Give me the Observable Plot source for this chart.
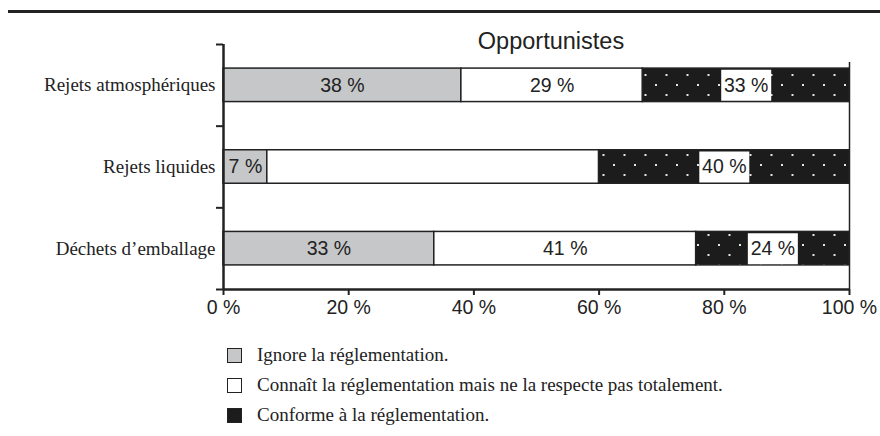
<!DOCTYPE html>
<html><head><meta charset="utf-8">
<script src="https://cdn.jsdelivr.net/npm/d3@7"></script>
<script src="https://cdn.jsdelivr.net/npm/@observablehq/plot@0.6"></script>
<style>
body{margin:0;background:#fff;}
#wrap{position:relative;width:880px;height:436px;overflow:hidden;background:#fff;}
#topline{position:absolute;left:8px;right:0;top:10px;height:3px;background:#222;}
#title{position:absolute;left:551px;top:29.5px;transform:translateX(-50%);font:23.5px/1 "Liberation Sans",Arial,sans-serif;color:#222;white-space:nowrap;}
#chart{position:absolute;left:0;top:0;}
#legend{position:absolute;left:227px;top:340px;font:19px "Liberation Serif","Times New Roman",serif;color:#222;}
.row{display:flex;align-items:center;height:30px;}
.sw{width:15px;height:15px;border:1.5px solid #222;margin-right:15px;box-sizing:border-box;}
</style></head>
<body><div id="wrap"><div id="topline"></div><div id="chart"></div><div id="title">Opportunistes</div><div id="legend"></div></div>
<script>
// ---- data ----
const categories = ["Rejets atmosphériques", "Rejets liquides", "Déchets d’emballage"];
const seriesNames = ["Ignore la réglementation.", "Connaît la réglementation mais ne la respecte pas totalement.", "Conforme à la réglementation."];
const ignoreValues = [38, 7, 33];
const connaitValues = [29, 53, 41];
const conformeValues = [33, 40, 24];
const labelShown = [[true, true, true], [true, false, true], [true, true, true]];
const xTickValues = [0, 20, 40, 60, 80, 100];
const seriesFills = ["#c6c7c9", "#ffffff", "url(#dots)"];
const legendFills = ["#c6c7c9", "#ffffff", "#1c1c1c"];

// ---- build table ----
const seriesValues = [ignoreValues, connaitValues, conformeValues];
const data = [];
categories.forEach((cat, i) => {
  seriesValues.forEach((vals, s) => {
    data.push({row: i, cat, series: s, value: vals[i], label: labelShown[i][s] ? `${vals[i]} %` : "", fill: seriesFills[s]});
  });
});

const H = 0.205; // half bar thickness in row units
const stackBase = {x: "value", z: "series", order: null, offset: "normalize"};

const boxSymbol = {draw(ctx) { ctx.moveTo(-25, -15.5); ctx.lineTo(25, -15.5); ctx.lineTo(25, 15.5); ctx.lineTo(-25, 15.5); ctx.closePath(); }};

const svg = Plot.plot({
  width: 880,
  height: 325,
  marginTop: 44,
  marginBottom: 36,
  marginLeft: 223,
  marginRight: 31,
  style: {fontFamily: "'Liberation Sans', Arial, sans-serif", color: "#222", background: "transparent"},
  x: {domain: [0, 1]},
  y: {domain: [-0.5, 2.5], reverse: true},
  color: {type: "identity"},
  marks: [
    Plot.rectX(data, Plot.stackX({...stackBase, y1: d => d.row - H, y2: d => d.row + H, fill: "fill", stroke: "#222", strokeWidth: 1.5})),
    Plot.dot(data, Plot.stackX({...stackBase, y: "row", symbol: boxSymbol, fill: d => (d.series === 2 && d.label) ? "white" : "none", stroke: null})),
    Plot.text(data, Plot.stackX({...stackBase, y: "row", text: "label", fontSize: 19.5, fill: "#222", dy: 0})),
    Plot.ruleX([0], {strokeWidth: 2.5, stroke: "#222"}),
    Plot.ruleX([1], {y1: -0.28, y2: 2.5, strokeWidth: 1.5, stroke: "#222"}),
    Plot.ruleY([2.5], {strokeWidth: 2.5, stroke: "#222"}),
    Plot.axisX({ticks: xTickValues.map(v => v / 100), tickFormat: d => `${Math.round(d * 100)} %`, tickSize: 6, tickPadding: 5, fontSize: 19.5, strokeWidth: 2, label: null}),
    Plot.axisY({ticks: [-0.5, 0.5, 1.5, 2.5], tickFormat: () => "", tickSize: 7, strokeWidth: 2, label: null}),
    Plot.axisY({ticks: categories.map((c, i) => i), tickFormat: i => categories[i], tickSize: 0, tickPadding: 8, fontSize: 19, fontFamily: "'Liberation Serif', 'Times New Roman', serif", label: null})
  ]
});

const ns = "http://www.w3.org/2000/svg";
const defs = document.createElementNS(ns, "defs");
defs.innerHTML = `<pattern id="dots" patternUnits="userSpaceOnUse" width="21" height="20"><rect width="21" height="20" fill="#1c1c1c"/><rect x="4" y="4" width="2" height="2" fill="#e6e6e6"/><rect x="14.5" y="14" width="2" height="2" fill="#e6e6e6"/></pattern>`;
svg.prepend(defs);
document.getElementById("chart").appendChild(svg);

const legend = d3.select("#legend");
seriesNames.forEach((name, s) => {
  const row = legend.append("div").attr("class", "row");
  row.append("div").attr("class", "sw").style("background", legendFills[s]);
  row.append("span").text(name);
});
</script>
</body></html>
